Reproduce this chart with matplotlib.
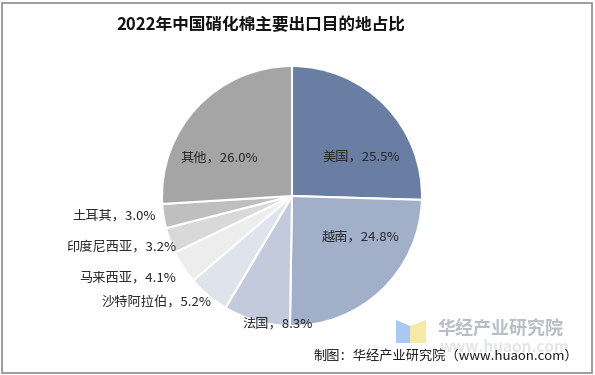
import matplotlib
matplotlib.use("Agg")
import matplotlib.pyplot as plt
from matplotlib.patches import Rectangle, Polygon

plt.rcParams['font.family'] = ['Noto Sans CJK SC', 'DejaVu Sans']

categories = ["美国", "越南", "法国", "沙特阿拉伯", "马来西亚", "印度尼西亚", "土耳其", "其他"]
values = [25.5, 24.8, 8.3, 5.2, 4.1, 3.2, 3.0, 26.0]
colors = ["#6A7EA3", "#A2AFC9", "#C3CADB", "#DFE3EC", "#EDEDED", "#D9D9D9", "#BFBFBF", "#A5A5A5"]
title = "2022年中国硝化棉主要出口目的地占比"
source = "制图：华经产业研究院（www.huaon.com）"

# label anchor layout (in pie-radius units) and alignment
label_pos = [(0.53, 0.30), (0.53, -0.315), (-0.11, -0.985), (-1.046, -0.815),
             (-1.265, -0.63), (-1.31, -0.39), (-1.365, -0.154), (-0.56, 0.29)]

W, H = 595, 375
fig = plt.figure(figsize=(W / 100, H / 100), dpi=100)
fig.patch.set_facecolor("white")

# pie axes: radius 130px centred at (292,196)
R = 130
cx, cy = 292, 196
lim = 1.4
size = 2 * lim * R
ax = fig.add_axes([(cx - size / 2) / W, (H - cy - size / 2) / H, size / W, size / H])
ax.pie(values, colors=colors, startangle=90, counterclock=False, radius=1,
       wedgeprops=dict(edgecolor="white", linewidth=1.5))
ax.set_xlim(-lim, lim)
ax.set_ylim(-lim, lim)
ax.set_aspect("equal")
ax.axis("off")

for cat, v, (x, y) in zip(categories, values, label_pos):
    ax.text(x, y, f"{cat}，{v:.1f}%", ha="center", va="center", fontsize=9.5,
            color="#262626")

# title
fig.text(261 / W, 1 - 25 / H, title, ha="center", va="center", fontsize=12,
         fontweight="bold", color="#111111")

# watermark logo
fig.patches.append(Polygon([(396 / W, 1 - 343 / H), (396 / W, 1 - 320 / H),
                            (410 / W, 1 - 326 / H), (410 / W, 1 - 343 / H)],
                           closed=True, transform=fig.transFigure,
                           facecolor="#A9C9F2", edgecolor="none"))
fig.patches.append(Polygon([(410 / W, 1 - 343 / H), (410 / W, 1 - 326 / H),
                            (426 / W, 1 - 320 / H), (426 / W, 1 - 343 / H)],
                           closed=True, transform=fig.transFigure,
                           facecolor="#F7E9A6", edgecolor="none"))
fig.text(437 / W, 1 - 329 / H, "华经产业研究院", ha="left", va="center", fontsize=13,
         fontweight="bold", color="#B7BEC6")
fig.text(440 / W, 1 - 347 / H, "www.huaon.com", ha="left", va="center", fontsize=11,
         fontweight="bold", color="#E2E6EA")

# source
fig.text(578 / W, 1 - 356 / H, source, ha="right", va="center", fontsize=9.5,
         color="#1A1A1A")

# outer frame
fig.patches.append(Rectangle((1.5 / W, 2.5 / H), (W - 5) / W, (H - 5) / H,
                             transform=fig.transFigure, fill=False,
                             edgecolor="#8C8C8C", linewidth=1.2))

fig.savefig("out.png", dpi=100)
